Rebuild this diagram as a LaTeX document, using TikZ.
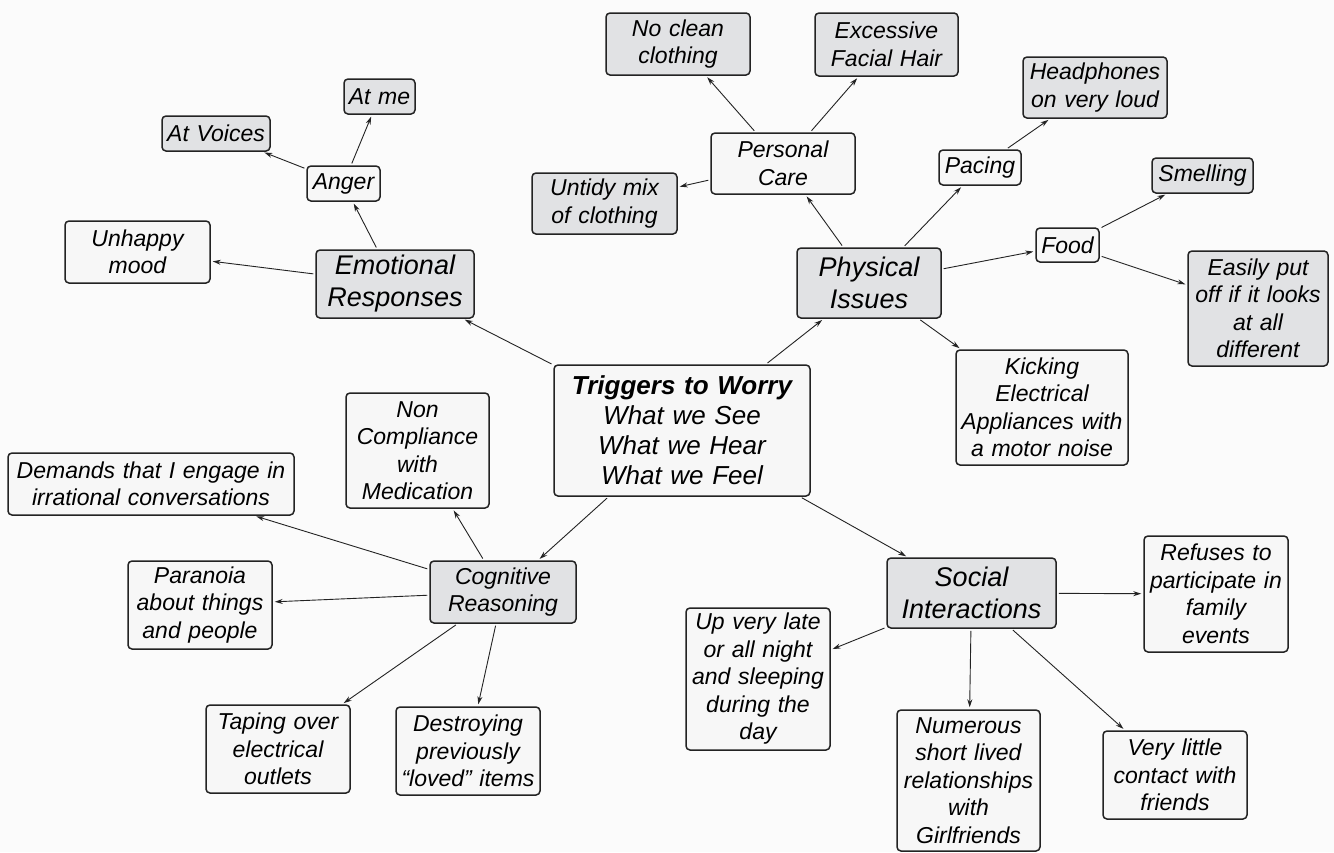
\documentclass[tikz,border=0pt]{standalone}
\usepackage{fontspec}
\setmainfont{Liberation Sans}
\usetikzlibrary{arrows.meta}
\definecolor{bg}{RGB}{251,251,251}
\definecolor{boxgray}{RGB}{225,226,228}
\definecolor{boxlight}{RGB}{247,247,247}
\definecolor{edgecol}{RGB}{35,35,35}
\tikzset{
  base/.style={draw=edgecol, line width=1.5pt, rounded corners=4pt, align=center,
    inner xsep=0pt, inner ysep=0pt, font=\fontsize{23}{27.5}\selectfont\itshape},
  gbox/.style={base, fill=boxgray},
  lbox/.style={base, fill=boxlight},
  big/.style={font=\fontsize{27}{32}\selectfont\itshape},
  sz/.style 2 args={text width=#1pt, minimum height=#2pt},
  conn/.style={draw=edgecol, line width=0.9pt, -{Stealth[length=8pt,width=5pt]},
    shorten >=2pt, shorten <=2pt},
}
\begin{document}
\begin{tikzpicture}[x=1pt, y=-1pt]
\fill[bg] (0,0) rectangle (1334,852);
\useasboundingbox (0,0) rectangle (1334,852);

% centre
\node[lbox, sz={256}{131}, font=\fontsize{26}{30}\selectfont\itshape] (central) at (682,430.5)
  {{\bfseries Triggers to Worry}\\What we See\\What we Hear\\What we Feel};

% emotional branch
\node[gbox, sz={158}{68}, big] (emo) at (395,284) {Emotional\\Responses};
\node[lbox, sz={73}{35}] (anger) at (343.5,183.5) {Anger};
\node[gbox, sz={71}{35}] (atme) at (379.5,96.5) {At me};
\node[gbox, sz={108}{35}] (atvoices) at (216,133.5) {At Voices};
\node[lbox, sz={145}{62}] (unhappy) at (137.5,252) {Unhappy\\mood};

% physical branch
\node[gbox, sz={144}{70}, big] (phys) at (869,283) {Physical\\Issues};
\node[lbox, sz={144}{61}] (pcare) at (783,163.5) {Personal\\Care};
\node[gbox, sz={144}{62}] (noclean) at (678,44) {No clean\\clothing};
\node[gbox, sz={143}{63}] (excess) at (886.5,44.5) {Excessive\\Facial Hair};
\node[gbox, sz={145}{61}] (untidy) at (604.5,203.5) {Untidy mix\\of clothing};
\node[lbox, sz={82}{35}] (pacing) at (980,167.5) {Pacing};
\node[gbox, sz={144}{61}] (headph) at (1095,87.5) {Headphones\\on very loud};
\node[lbox, sz={63}{34}] (food) at (1067.5,245) {Food};
\node[gbox, sz={101}{35}] (smell) at (1202.5,175.5) {Smelling};
\node[gbox, sz={140}{115}] (easily) at (1258,308.5) {Easily put\\off if it looks\\at all\\different};
\node[lbox, sz={172}{115}] (kick) at (1042,407.5) {Kicking\\Electrical\\Appliances with\\a motor noise};

% cognitive branch
\node[gbox, sz={146}{62}] (cog) at (503,592) {Cognitive\\Reasoning};
\node[lbox, sz={286}{62}] (demands) at (151,484) {Demands that I engage in\\irrational conversations};
\node[lbox, sz={143}{115}] (noncomp) at (417.5,450.5) {Non\\Compliance\\with\\Medication};
\node[lbox, sz={144}{88}] (paranoia) at (200,605) {Paranoia\\about things\\and people};
\node[lbox, sz={144}{88}] (taping) at (278,749) {Taping over\\electrical\\outlets};
\node[lbox, sz={144}{88}] (destroy) at (468,751) {Destroying\\previously\\“loved” items};

% social branch
\node[gbox, sz={169}{70}, big] (social) at (971.5,593) {Social\\Interactions};
\node[lbox, sz={144}{116}] (refuses) at (1216,594) {Refuses to\\participate in\\family\\events};
\node[lbox, sz={144}{142}] (uplate) at (758,679) {Up very late\\or all night\\and sleeping\\during the\\day};
\node[lbox, sz={143}{141}] (numerous) at (968.5,780.5) {Numerous\\short lived\\relationships\\with\\Girlfriends};
\node[lbox, sz={144}{88}] (little) at (1175,775) {Very little\\contact with\\friends};

% connectors
\draw[conn] (central) -- (emo);
\draw[conn] (central) -- (phys);
\draw[conn] (central) -- (cog);
\draw[conn] (central) -- (social);

\draw[conn] (emo) -- (anger);
\draw[conn] (emo) -- (unhappy);
\draw[conn] (anger) -- (atme);
\draw[conn] (anger) -- (atvoices);

\draw[conn] (phys) -- (pcare);
\draw[conn] (phys) -- (pacing);
\draw[conn] (phys) -- (food);
\draw[conn] (phys) -- (kick);
\draw[conn] (pcare) -- (noclean);
\draw[conn] (pcare) -- (excess);
\draw[conn] (pcare) -- (untidy);
\draw[conn] (pacing) -- (headph);
\draw[conn] (food) -- (smell);
\draw[conn] (food) -- (easily);

\draw[conn] (cog) -- (demands);
\draw[conn] (cog) -- (noncomp);
\draw[conn] (cog) -- (paranoia);
\draw[conn] (cog) -- (taping);
\draw[conn] (cog) -- (destroy);

\draw[conn] (social) -- (refuses);
\draw[conn] (social) -- (uplate);
\draw[conn] (social) -- (numerous);
\draw[conn] (social) -- (little);
\end{tikzpicture}
\end{document}
